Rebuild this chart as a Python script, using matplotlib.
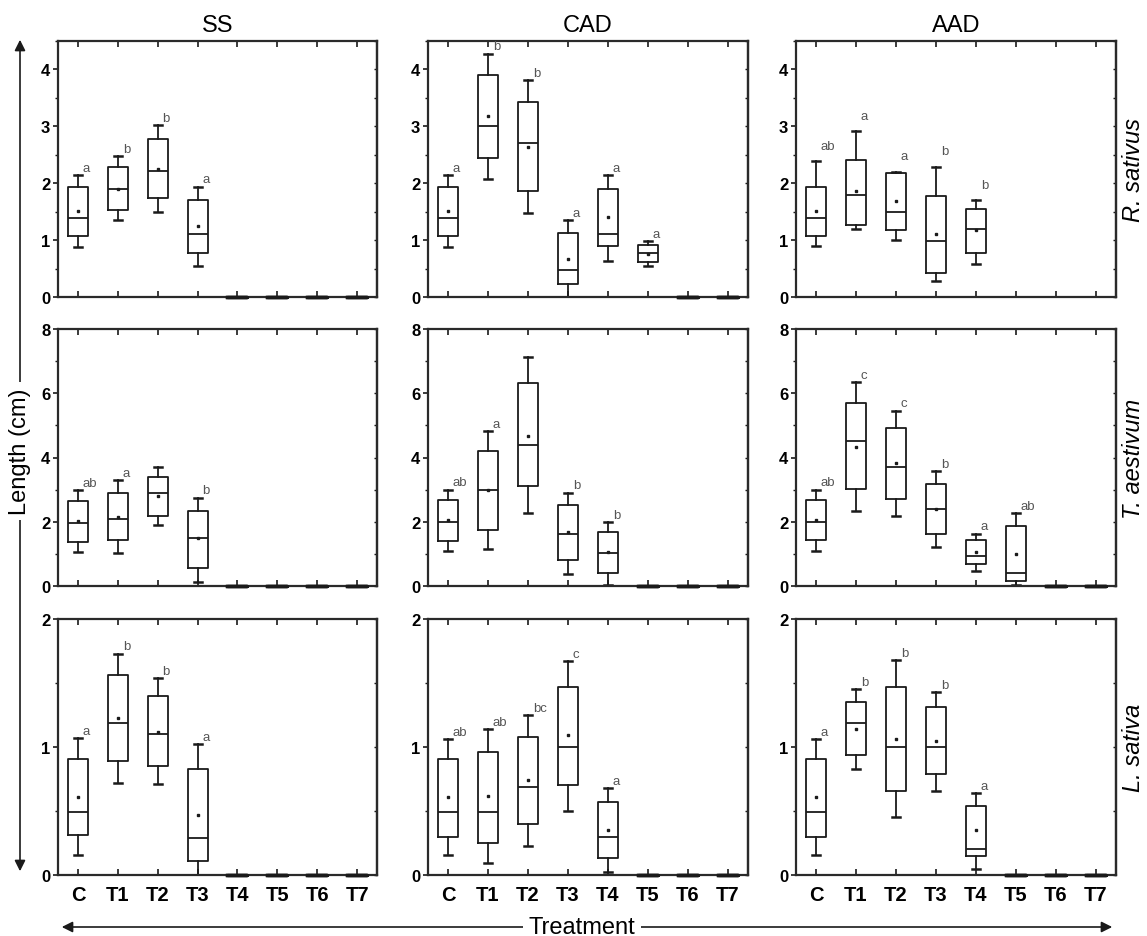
import matplotlib
matplotlib.use("Agg")
import matplotlib.pyplot as plt
from matplotlib.patches import FancyArrowPatch
from matplotlib.ticker import MultipleLocator

plt.rcParams['font.family'] = ['Liberation Sans', 'DejaVu Sans']

treatments = ["C", "T1", "T2", "T3", "T4", "T5", "T6", "T7"]
methods = ["SS", "CAD", "AAD"]
species = ["R. sativus", "T. aestivum", "L. sativa"]

# Each entry: (low whisker, Q1, median, Q3, high whisker, mean); None = not measured
NIL = (0.0, 0.0, 0.0, 0.0, 0.0, 0.0)

# R. sativus
rs_ss = [(0.88, 1.08, 1.38, 1.93, 2.15, 1.51), (1.36, 1.53, 1.90, 2.28, 2.48, 1.90),
         (1.49, 1.74, 2.21, 2.77, 3.02, 2.25), (0.55, 0.78, 1.10, 1.71, 1.94, 1.24),
         NIL, NIL, NIL, NIL]
rs_cad = [(0.88, 1.08, 1.38, 1.94, 2.15, 1.51), (2.08, 2.44, 3.01, 3.90, 4.28, 3.18),
          (1.47, 1.86, 2.70, 3.42, 3.81, 2.64), (0.0, 0.22, 0.48, 1.12, 1.35, 0.67),
          (0.64, 0.89, 1.10, 1.90, 2.15, 1.40), (0.54, 0.61, 0.77, 0.92, 0.99, 0.76),
          NIL, NIL]
rs_aad = [(0.89, 1.08, 1.38, 1.94, 2.39, 1.51), (1.20, 1.27, 1.80, 2.41, 2.91, 1.86),
          (1.00, 1.18, 1.50, 2.18, 2.20, 1.68), (0.29, 0.42, 0.98, 1.77, 2.29, 1.11),
          (0.58, 0.78, 1.20, 1.55, 1.70, 1.18), None, None, None]
rs_ss_letters = ["a", "b", "b", "a", "", "", "", ""]
rs_cad_letters = ["a", "b", "b", "a", "a", "a", "", ""]
rs_aad_letters = ["ab", "a", "a", "b", "b", "", "", ""]

# T. aestivum
ta_ss = [(1.07, 1.37, 1.97, 2.65, 2.98, 2.03), (1.02, 1.43, 2.08, 2.91, 3.29, 2.16),
         (1.89, 2.18, 2.89, 3.38, 3.71, 2.81), (0.12, 0.57, 1.49, 2.32, 2.75, 1.48),
         NIL, NIL, NIL, NIL]
ta_cad = [(1.10, 1.41, 2.00, 2.69, 3.00, 2.04), (1.16, 1.75, 2.99, 4.19, 4.81, 2.99),
          (2.27, 3.12, 4.39, 6.31, 7.12, 4.68), (0.37, 0.80, 1.62, 2.51, 2.91, 1.67),
          (0.04, 0.42, 1.03, 1.67, 1.98, 1.05), NIL, NIL, NIL]
ta_aad = [(1.10, 1.42, 2.00, 2.69, 3.00, 2.04), (2.34, 3.02, 4.52, 5.69, 6.36, 4.34),
          (2.17, 2.72, 3.70, 4.93, 5.46, 3.82), (1.21, 1.62, 2.39, 3.17, 3.59, 2.39),
          (0.48, 0.68, 0.92, 1.44, 1.63, 1.06), (0.04, 0.15, 0.40, 1.88, 2.27, 1.01),
          NIL, NIL]
ta_ss_letters = ["ab", "a", "", "b", "", "", "", ""]
ta_cad_letters = ["ab", "a", "", "b", "b", "", "", ""]
ta_aad_letters = ["ab", "c", "c", "b", "a", "ab", "", ""]

# L. sativa
ls_ss = [(0.16, 0.31, 0.49, 0.91, 1.07, 0.61), (0.72, 0.89, 1.19, 1.56, 1.73, 1.23),
         (0.71, 0.85, 1.10, 1.40, 1.54, 1.12), (0.0, 0.11, 0.29, 0.83, 1.02, 0.47),
         NIL, NIL, NIL, NIL]
ls_cad = [(0.16, 0.30, 0.49, 0.91, 1.06, 0.61), (0.09, 0.25, 0.49, 0.96, 1.14, 0.62),
          (0.23, 0.40, 0.69, 1.08, 1.25, 0.74), (0.50, 0.70, 1.00, 1.47, 1.67, 1.09),
          (0.02, 0.13, 0.30, 0.57, 0.68, 0.35), NIL, NIL, NIL]
ls_aad = [(0.16, 0.30, 0.49, 0.91, 1.06, 0.61), (0.83, 0.94, 1.19, 1.35, 1.45, 1.14),
          (0.45, 0.66, 1.00, 1.47, 1.68, 1.06), (0.66, 0.79, 1.00, 1.31, 1.43, 1.05),
          (0.05, 0.15, 0.20, 0.54, 0.64, 0.35), NIL, NIL, NIL]
ls_ss_letters = ["a", "b", "b", "a", "", "", "", ""]
ls_cad_letters = ["ab", "ab", "bc", "c", "a", "", "", ""]
ls_aad_letters = ["a", "b", "b", "b", "a", "", "", ""]

panels = [
    [(rs_ss, rs_ss_letters), (rs_cad, rs_cad_letters), (rs_aad, rs_aad_letters)],
    [(ta_ss, ta_ss_letters), (ta_cad, ta_cad_letters), (ta_aad, ta_aad_letters)],
    [(ls_ss, ls_ss_letters), (ls_cad, ls_cad_letters), (ls_aad, ls_aad_letters)],
]
y_max = [4.5, 8, 2]
y_major = [1, 2, 1]

W, H = 1147, 937
fig = plt.figure(figsize=(W / 100, H / 100), dpi=100)

col_left = [58, 428, 796]
col_right = [377, 748, 1116]
row_top = [42, 330, 620]
row_bottom = [298, 587, 876]

ink = "#1a1a1a"
box_kw = dict(color=ink, linewidth=1.3)

for r in range(3):
    for c in range(3):
        x0, x1 = col_left[c], col_right[c]
        y0, y1 = row_top[r], row_bottom[r]
        ax = fig.add_axes([x0 / W, (H - y1) / H, (x1 - x0) / W, (y1 - y0) / H])
        data, letters = panels[r][c]
        stats, pos, flat = [], [], []
        for i, d in enumerate(data):
            if d is None:
                continue
            lo, q1, med, q3, hi, mean = d
            stats.append(dict(whislo=lo, q1=q1, med=med, q3=q3, whishi=hi,
                              mean=mean, fliers=[], label=treatments[i]))
            pos.append(i + 1)
            flat.append(hi == lo)
        arts = ax.bxp(stats, positions=pos, widths=0.5, capwidths=0.2,
                      showmeans=True, showfliers=False,
                      boxprops=box_kw, whiskerprops=box_kw,
                      capprops=dict(color=ink, linewidth=1.8),
                      medianprops=box_kw,
                      meanprops=dict(marker="s", markersize=1.7, markerfacecolor=ink,
                                     markeredgecolor=ink))
        # groups with no growth collapse to a bar on the baseline
        for k, is_flat in enumerate(flat):
            if is_flat:
                for key in ("boxes", "medians"):
                    arts[key][k].set_linewidth(2.4)
                    arts[key][k].set_clip_on(False)
                    arts[key][k].set_zorder(5)
                arts["means"][k].set_visible(False)
                for cap in arts["caps"][2 * k:2 * k + 2]:
                    cap.set_visible(False)

        extra = 9 if (r == 0 and c == 2) else 3
        for i, lab in enumerate(letters):
            if lab and data[i] is not None:
                ax.annotate(lab, (i + 1, data[i][4]), xytext=(3.5, extra),
                            textcoords="offset points", ha="left", va="baseline",
                            fontsize=9.5, color="#555555")

        ax.set_xlim(0.5, 8.5)
        ax.set_ylim(0, y_max[r])
        ax.set_xticks(range(1, 9))
        ax.yaxis.set_major_locator(MultipleLocator(y_major[r]))
        ax.yaxis.set_minor_locator(MultipleLocator(y_major[r] / 2))
        ax.set_yticklabels([f"{int(v)}" for v in ax.get_yticks()],
                           fontweight="bold", fontsize=12)
        if r == 2:
            ax.set_xticklabels(treatments, fontweight="bold", fontsize=14.5)
        else:
            ax.set_xticklabels([])
        ax.tick_params(axis="x", which="both", direction="in", top=True,
                       length=4, width=1.2, color=ink, pad=7)
        ax.tick_params(axis="y", which="major", direction="out", length=3.5,
                       width=1.2, color=ink, pad=2)
        ax.tick_params(axis="y", which="minor", direction="out", length=2,
                       width=1, color=ink)
        for s in ax.spines.values():
            s.set_linewidth(1.6)
            s.set_color("#2a2a2a")
        sec = ax.secondary_yaxis("right")
        sec.yaxis.set_major_locator(MultipleLocator(y_major[r]))
        sec.yaxis.set_minor_locator(MultipleLocator(y_major[r] / 2))
        sec.tick_params(which="both", direction="in", length=2.5, width=1,
                        labelright=False, color=ink)
        sec.spines["right"].set_linewidth(1.6)
        sec.spines["right"].set_color("#2a2a2a")

        if r == 0:
            ax.set_title(methods[c], fontsize=17, pad=7)
        if c == 2:
            fig.text(1134 / W, 1 - ((y0 + y1) / 2) / H, species[r], rotation=90,
                     ha="center", va="center", fontsize=17, style="italic")

# Shared axis labels with double-headed arrows
arrow_kw = dict(arrowstyle="<|-|>", mutation_scale=16, color=ink, linewidth=1.2,
                transform=fig.transFigure)
fig.add_artist(FancyArrowPatch((20 / W, 1 - 875 / H), (20 / W, 1 - 38 / H), **arrow_kw))
fig.add_artist(FancyArrowPatch((59 / W, 1 - 928 / H), (1115 / W, 1 - 928 / H), **arrow_kw))
fig.text(20 / W, 1 - 452 / H, "Length (cm)", rotation=90, ha="center", va="center",
         fontsize=17, bbox=dict(facecolor="white", edgecolor="none", pad=4))
fig.text(582 / W, 1 - 928 / H, "Treatment", ha="center", va="center",
         fontsize=17, bbox=dict(facecolor="white", edgecolor="none", pad=4))

fig.savefig("out.png", dpi=100, facecolor="white")
